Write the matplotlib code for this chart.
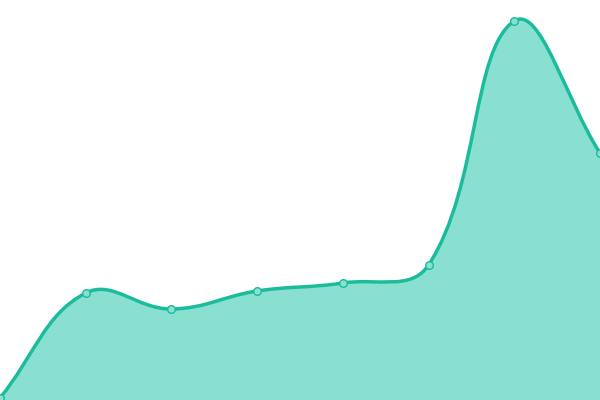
import numpy as np
import matplotlib.pyplot as plt
from matplotlib.path import Path
from matplotlib.patches import PathPatch

# values (pixel scale, 0 at bottom, 400 at top)
labels = ["a", "b", "c", "d", "e", "f", "g", "h"]
values = [2, 107, 91, 109, 117, 135, 379, 247]

line_color = "#1abc9c"
fill_color = "#8ae0d0"
tension = 0.4


def bezier_controls(pts, t):
    """Chart.js-style spline control points, computed in display space."""
    n = len(pts)
    c1 = [None] * n
    c2 = [None] * n
    for i in range(n):
        prev = pts[max(i - 1, 0)]
        cur = pts[i]
        nxt = pts[min(i + 1, n - 1)]
        d01 = np.hypot(*(cur - prev))
        d12 = np.hypot(*(nxt - cur))
        tot = d01 + d12
        fa = t * d01 / tot if tot else 0
        fb = t * d12 / tot if tot else 0
        c1[i] = cur - fa * (nxt - prev)
        c2[i] = cur + fb * (nxt - prev)
    return c1, c2


fig = plt.figure(figsize=(6, 4), dpi=100)
ax = fig.add_axes([0, 0, 1, 1])
x = np.arange(len(values))
ax.set_xlim(0, len(values) - 1)
ax.set_ylim(0, 400)
ax.axis("off")

disp = ax.transData.transform(np.column_stack([x, values]))
c1, c2 = bezier_controls(disp, tension)
verts = [disp[0]]
codes = [Path.MOVETO]
for i in range(len(disp) - 1):
    verts += [c2[i], c1[i + 1], disp[i + 1]]
    codes += [Path.CURVE4] * 3
inv = ax.transData.inverted()
verts = inv.transform(np.array(verts))

line_path = Path(verts, codes)
fill_verts = np.vstack([verts, [[x[-1], 0], [x[0], 0], verts[0]]])
fill_codes = codes + [Path.LINETO, Path.LINETO, Path.CLOSEPOLY]
ax.add_patch(PathPatch(Path(fill_verts, fill_codes), facecolor=fill_color,
                       edgecolor="none", zorder=1))
ax.add_patch(PathPatch(line_path, facecolor="none", edgecolor=line_color,
                       lw=2.5, zorder=2))
ax.plot(x, values, "o", ms=5.5, mfc=fill_color, mec=line_color, mew=1,
        zorder=3, clip_on=False)

plt.savefig("out.png", dpi=100)
